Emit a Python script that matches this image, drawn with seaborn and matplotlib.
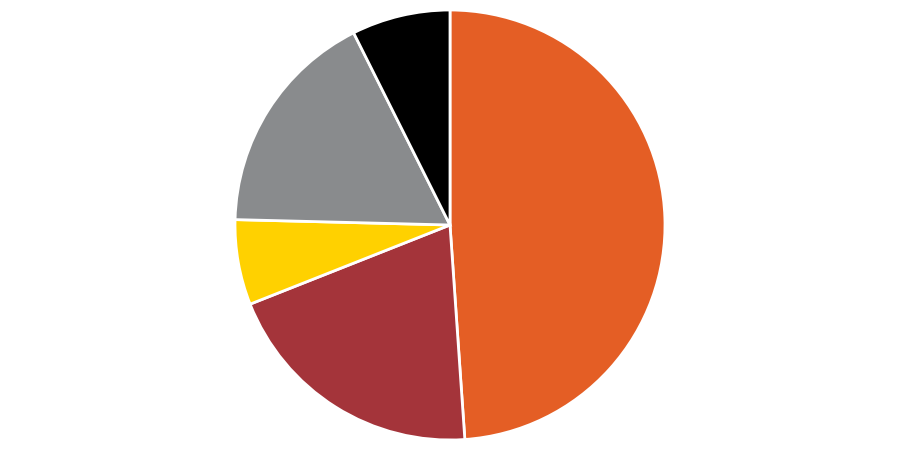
import matplotlib
matplotlib.use("Agg")
import matplotlib.pyplot as plt
import seaborn as sns

# slice shares (percent), clockwise from 12 o'clock
categories = ["Orange", "Red", "Yellow", "Gray", "Black"]
shares = [48.9, 20.1, 6.4, 17.2, 7.4]
colors = ["#E45E25", "#A4343A", "#FFD100", "#898B8D", "#000000"]

sns.set_style("white")

fig = plt.figure(figsize=(9, 4.5), dpi=100)
ax = fig.add_axes([0, 0, 1, 1])
ax.pie(
    shares,
    labels=None,
    colors=colors,
    startangle=90,
    counterclock=False,
    wedgeprops={"edgecolor": "white", "linewidth": 2},
)
ax.set_aspect("equal")
lim = 225 / 215
ax.set_ylim(-lim, lim)
ax.set_xlim(-2 * lim, 2 * lim)
ax.axis("off")

fig.savefig("out.png", dpi=100, facecolor="white")
